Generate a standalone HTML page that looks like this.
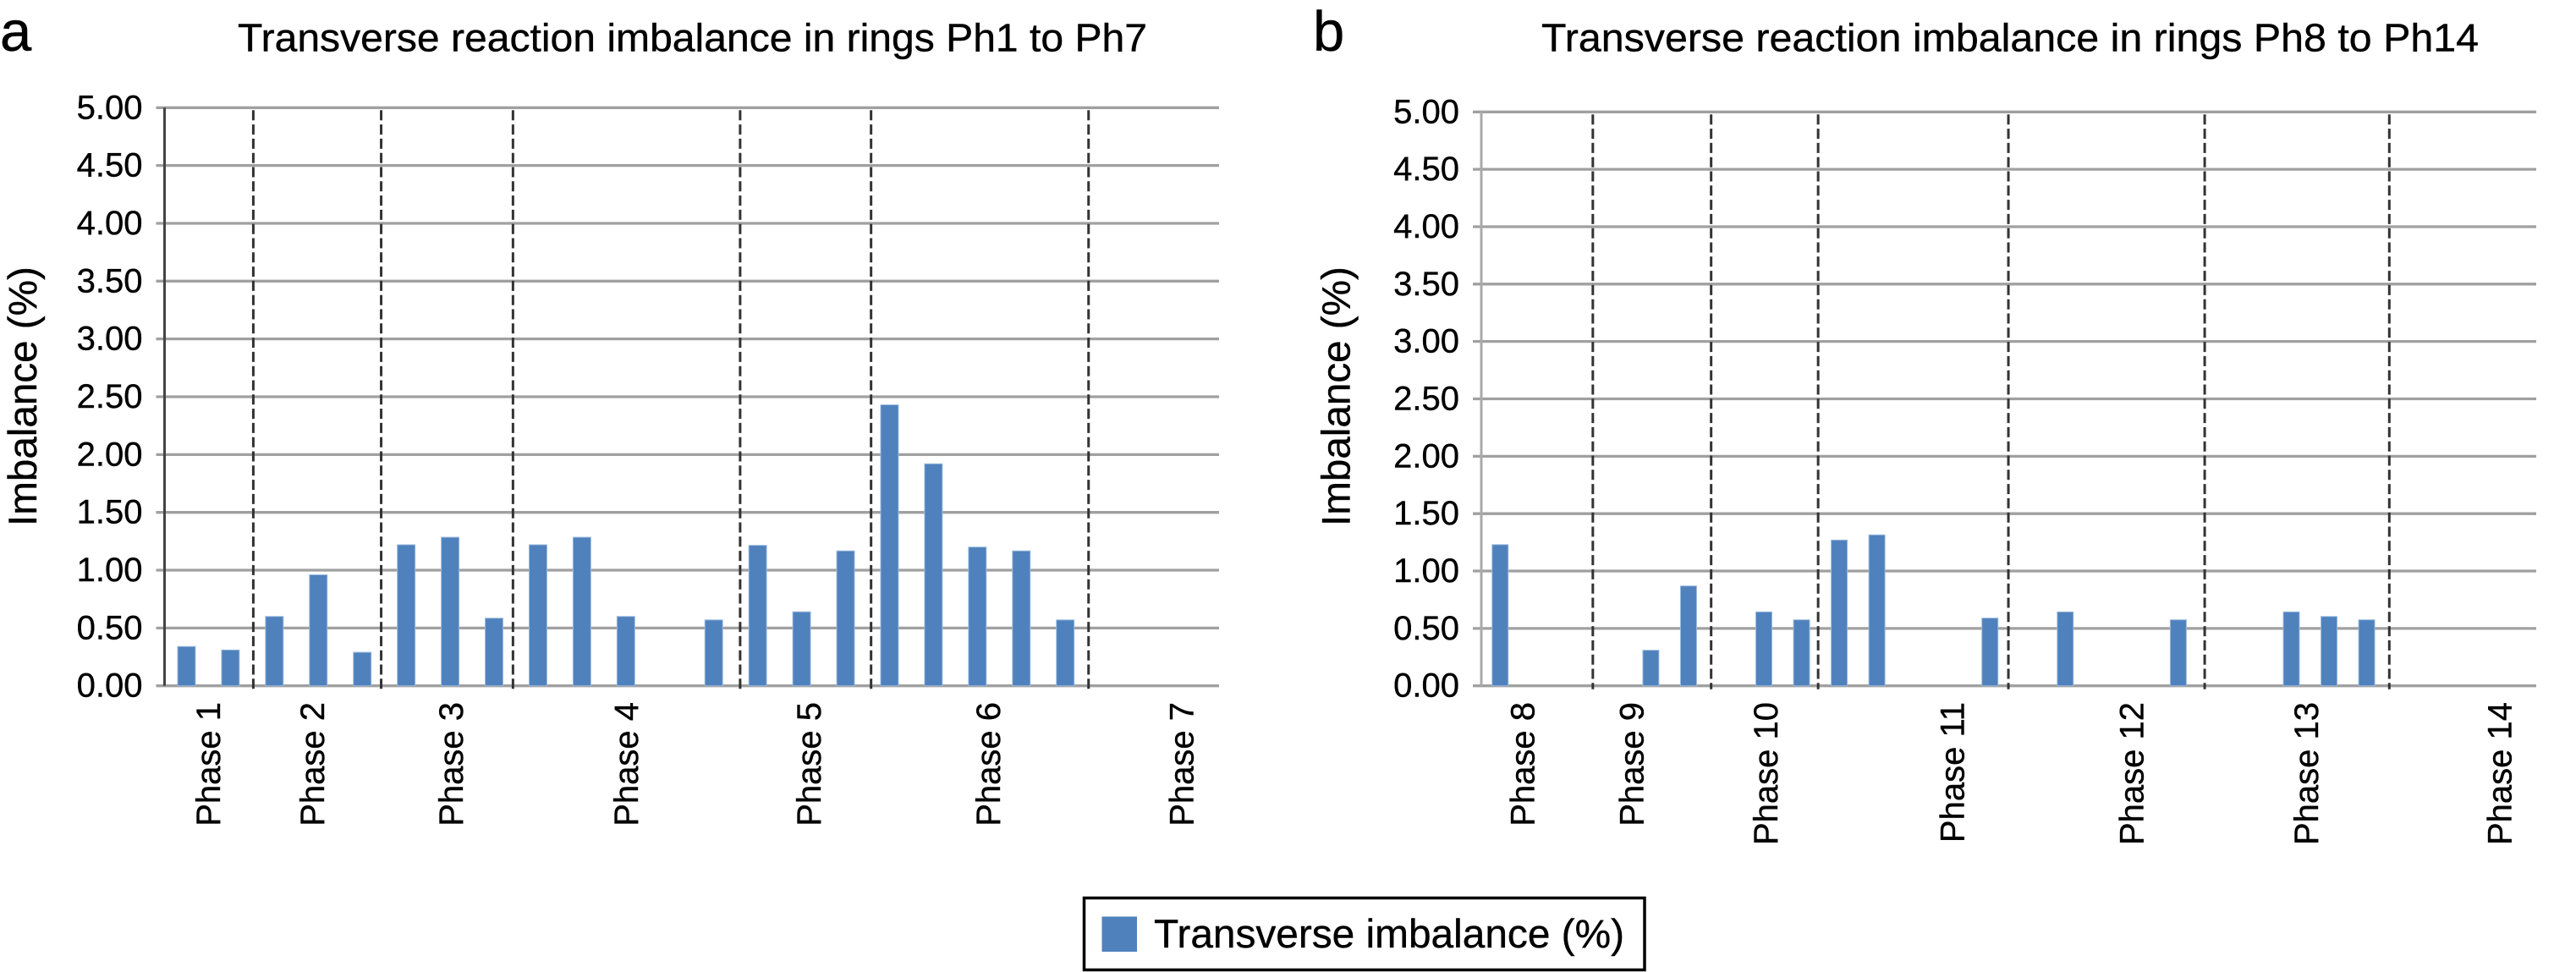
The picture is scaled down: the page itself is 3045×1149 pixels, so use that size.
<!DOCTYPE html>
<html lang="en">
<head>
<meta charset="utf-8">
<title>Transverse reaction imbalance</title>
<style>
html,body{margin:0;padding:0;background:#fff;width:3045px;height:1149px;overflow:hidden}
svg{display:block;font-family:"Liberation Sans",Arial,sans-serif}
text{fill:#000;stroke:#000;stroke-width:0.4}
</style>
</head>
<body>
<svg id="chart" width="3045" height="1149" viewBox="0 0 3045 1149" xmlns="http://www.w3.org/2000/svg"></svg>
<script>
// Shared axis data
const tickValues = [0, 0.5, 1, 1.5, 2, 2.5, 3, 3.5, 4, 4.5, 5];
const tickLabels = ["0.00", "0.50", "1.00", "1.50", "2.00", "2.50", "3.00", "3.50", "4.00", "4.50", "5.00"];

// Panel a data (24 rings)
const valuesA = [0.34, 0.31, 0.60, 0.96, 0.29, 1.22, 1.285, 0.585, 1.22, 1.285, 0.60, 0, 0.57, 1.215, 0.64, 1.167, 2.43, 1.92, 1.20, 1.167, 0.57, 0, 0, 0];
const phasesA = ["Phase 1", "Phase 2", "Phase 3", "Phase 4", "Phase 5", "Phase 6", "Phase 7"];
const phaseCentersA = [0.97, 3.34, 6.5, 10.48, 14.64, 18.72, 23.12];
const phaseBreaksA = [2.02, 4.93, 7.93, 13.1, 16.08, 21.03];

// Panel b data (28 rings)
const valuesB = [1.23, 0, 0, 0, 0.31, 0.87, 0, 0.644, 0.575, 1.27, 1.315, 0, 0, 0.59, 0, 0.644, 0, 0, 0.575, 0, 0, 0.644, 0.604, 0.575, 0, 0, 0, 0];
const phasesB = ["Phase 8", "Phase 9", "Phase 10", "Phase 11", "Phase 12", "Phase 13", "Phase 14"];
const phaseCentersB = [1.07, 3.96, 7.52, 12.47, 17.23, 21.87, 27.0];
const phaseBreaksB = [2.96, 6.10, 8.94, 13.99, 19.2, 24.1];

const svg = document.getElementById('chart');
const NS = 'http://www.w3.org/2000/svg';

function make(tag, attrs, parent, txt) {
  const el = document.createElementNS(NS, tag);
  for (const k in attrs) el.setAttribute(k, attrs[k]);
  if (txt !== undefined) el.textContent = txt;
  parent.appendChild(el);
  return el;
}

function drawPanel(cfg) {
  const g = make('g', {}, svg);
  
  

  const xScale = c => cfg.left + (cfg.right - cfg.left) * c / cfg.values.length;
  const yScale = v => cfg.y0 - v * (cfg.y0 - cfg.y5) / 5;

  const letter = make('text', {x: cfg.letterX, y: 60, 'font-size': 67}, g, cfg.key);
  
  

  const title = make('text', {x: cfg.titleX, y: 60.5, 'font-size': 46.5, textLength: cfg.titleLen, lengthAdjust: 'spacingAndGlyphs'}, g, cfg.title);
  
  

  const yt = make('text', {transform: 'translate(' + cfg.yTitleX + ',622) rotate(-90)', 'font-size': 47.6}, g, 'Imbalance (%)');
  
  

  tickValues.forEach((v, i) => {
    const y = yScale(v);
    const line = make('line', {x1: cfg.left - 10, x2: cfg.right, y1: y, y2: y, stroke: '#a0a0a0', 'stroke-width': 3.3}, g);
    
    
    const lab = make('text', {x: cfg.left - 26, y: y + 13, 'font-size': 40, 'text-anchor': 'end'}, g, tickLabels[i]);
    
    
  });

  const bw = cfg.barWidth;
  cfg.values.forEach((v, i) => {
    const cx = xScale(i + 0.5);
    const top = yScale(v);
    const bar = make('rect', {x: cx - bw / 2, y: top, width: bw, height: cfg.y0 - top, fill: '#4f81bd', stroke: '#9dbbdc', 'stroke-width': 1}, g);
    
    
  });

  cfg.breaks.forEach((c, i) => {
    const x = xScale(c);
    const d = make('line', {x1: x, x2: x, y1: cfg.y5 + 3, y2: cfg.y0 + 4, stroke: '#333', 'stroke-width': 3, 'stroke-dasharray': '12 4.8'}, g);
    
    
  });

  const axis = make('line', {x1: cfg.left, x2: cfg.left, y1: cfg.y5, y2: cfg.y0, stroke: cfg.axisColor, 'stroke-width': 3}, g);
  
  

  cfg.phases.forEach((p, i) => {
    const x = xScale(cfg.centers[i]) + 15;
    const t = make('text', {transform: 'translate(' + x + ',830) rotate(-90)', 'font-size': 40, 'text-anchor': 'end'}, g, p);
    
    
  });
}

drawPanel({key: 'a', left: 194.5, right: 1441, y0: 810.7, y5: 127.3, barWidth: 21, axisColor: '#444',
  letterX: 0, titleX: 281, titleLen: 1075, yTitleX: 43,
  title: 'Transverse reaction imbalance in rings Ph1 to Ph7',
  values: valuesA, phases: phasesA, centers: phaseCentersA, breaks: phaseBreaksA});

drawPanel({key: 'b', left: 1751, right: 2998, y0: 810.7, y5: 132.3, barWidth: 19, axisColor: '#aaa',
  letterX: 1552, titleX: 1822, titleLen: 1108, yTitleX: 1595.4,
  title: 'Transverse reaction imbalance in rings Ph8 to Ph14',
  values: valuesB, phases: phasesB, centers: phaseCentersB, breaks: phaseBreaksB});

const legend = make('g', {}, svg);



const legendBox = make('rect', {x: 1281.5, y: 1061.5, width: 662.5, height: 85, fill: '#fff', stroke: '#000', 'stroke-width': 3.5}, legend);



const legendSwatch = make('rect', {x: 1302.5, y: 1083.5, width: 41.5, height: 41.5, fill: '#4f81bd'}, legend);



const legendText = make('text', {x: 1364, y: 1120, 'font-size': 47, textLength: 556, lengthAdjust: 'spacingAndGlyphs'}, legend, 'Transverse imbalance (%)');


</script>
</body>
</html>
